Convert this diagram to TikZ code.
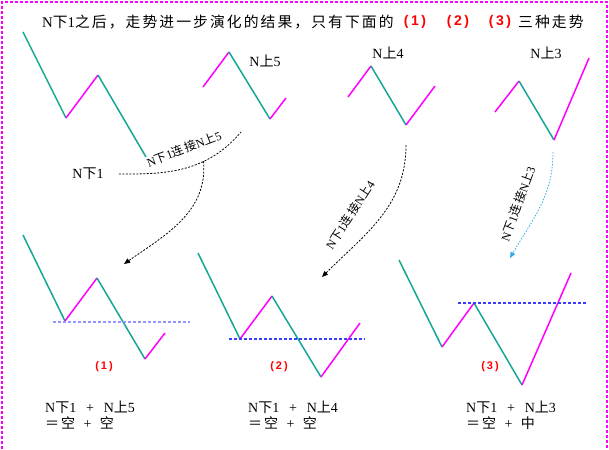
\documentclass[tikz,border=0pt]{standalone}
\usepackage{fontspec}
\setmainfont{Liberation Serif}[LetterSpace=6]
\newfontfamily\cjk{Noto Sans CJK SC}[LetterSpace=14]
\newfontfamily\casefont{Liberation Sans}[LetterSpace=18]
\newcommand{\zh}[1]{{\cjk #1}}
\usetikzlibrary{arrows.meta}
\definecolor{legteal}{RGB}{20,166,150}
\definecolor{legpink}{RGB}{255,0,255}
\definecolor{levelblue}{RGB}{60,60,255}
\definecolor{levelpale}{RGB}{150,150,255}
\definecolor{linkblue}{RGB}{50,170,230}

\begin{document}
\begin{tikzpicture}[x=1pt,y=-1pt,
  legdown/.style={draw=legteal,line width=1.5pt},
  legup/.style={draw=legpink,line width=1.5pt},
  levelline/.style={draw=levelblue,line width=1.2pt,dash pattern=on 3pt off 2pt},
  linkline/.style={line width=0.8pt,dash pattern=on 2pt off 1.5pt},
  link/.style={linkline,-{Triangle[length=6pt,width=5pt]}},
  tag/.style={font=\fontsize{14}{16}\selectfont,inner sep=0pt},
  linktag/.style={font=\fontsize{12}{14}\selectfont,inner sep=0pt},
  headtag/.style={font=\fontsize{14.8}{17}\selectfont,inner sep=0pt},
  casetag/.style={font=\casefont\bfseries\fontsize{11}{13}\selectfont,text=red,inner sep=0pt},
  sumtag/.style={font=\fontsize{14}{15.5}\selectfont,align=left,anchor=north west,inner sep=0pt}]
  \useasboundingbox (0,0) rectangle (609,449);
  \draw[draw=legpink,line width=1.6pt,dash pattern=on 3pt off 2pt] (2,449) -- (2,2) -- (607,2) -- (607,449);

  \node[headtag,anchor=west] (head) at (42,22) {N\zh{下}1\zh{之后，走势进一步演化的结果，只有下面的}};
  \node[casetag,font=\casefont\bfseries\fontsize{14}{16}\selectfont] (h1) at (415,22) {(1)};
  \node[casetag,font=\casefont\bfseries\fontsize{14}{16}\selectfont] (h2) at (458,22) {(2)};
  \node[casetag,font=\casefont\bfseries\fontsize{14}{16}\selectfont] (h3) at (500,22) {(3)};
  \node[headtag,anchor=west] (hend) at (518,22) {\zh{三种走势}};

  \draw[legdown] (23,32) -- (66,118);
  \draw[legup] (66,118) -- (98,75);
  \draw[legdown] (98,75) -- (146,157);

  \draw[legup] (203,87) -- (229,52);
  \draw[legdown] (229,52) -- (270,119);
  \draw[legup] (270,119) -- (286,98);

  \draw[legup] (348,97) -- (371,66);
  \draw[legdown] (371,66) -- (406,125);
  \draw[legup] (406,125) -- (435,86);

  \draw[legup] (495,112) -- (519,81);
  \draw[legdown] (519,81) -- (554,140);
  \draw[legup] (554,140) -- (589,58);

  \node[tag] (n1) at (88,174) {N\zh{下}1};
  \node[tag] (u5) at (265,61) {N\zh{上}5};
  \node[tag] (u4) at (388,53) {N\zh{上}4};
  \node[tag] (u3) at (546,53) {N\zh{上}3};

  \draw[legdown] (23,235) -- (65,321);
  \draw[legup] (65,321) -- (97,278);
  \draw[legdown] (97,278) -- (145,359);
  \draw[legup] (145,359) -- (165,333);
  \draw[levelline,draw=levelpale] (53,322) -- (190,322);

  \draw[legdown] (198,253) -- (240,339);
  \draw[legup] (240,339) -- (272,296);
  \draw[legdown] (272,296) -- (321,377);
  \draw[legup] (321,377) -- (360,323);
  \draw[levelline] (229,339) -- (365,339);

  \draw[legdown] (399,260) -- (442,347);
  \draw[legup] (442,347) -- (474,303);
  \draw[legdown] (474,303) -- (522,385);
  \draw[legup] (522,385) -- (571,273);
  \draw[levelline] (458,303) -- (586,303);

  \node[casetag] (c1) at (104,367) {(1)};
  \node[casetag] (c2) at (279,367) {(2)};
  \node[casetag] (c3) at (490,367) {(3)};

  \node[sumtag] (s1) at (45,401) {N\zh{下}1\hspace{0.7em}+\hspace{0.7em}N\zh{上}5\\\zh{＝空}\hspace{0.6em}+\hspace{0.6em}\zh{空}};
  \node[sumtag] (s2) at (248,401) {N\zh{下}1\hspace{0.7em}+\hspace{0.7em}N\zh{上}4\\\zh{＝空}\hspace{0.6em}+\hspace{0.6em}\zh{空}};
  \node[sumtag] (s3) at (466,401) {N\zh{下}1\hspace{0.7em}+\hspace{0.7em}N\zh{上}3\\\zh{＝空}\hspace{0.6em}+\hspace{0.6em}\zh{中}};

  \coordinate (e5) at (241,132);
  \coordinate (t1) at (124,264);
  \draw[linkline,shorten <=15pt] (n1.east) to[out=0,in=-130] coordinate[pos=0.68] (b1) (e5);
  \draw[link] (b1) to[out=-85,in=35] (t1);
  \node[linktag,rotate=21] (l5) at (184,149) {N\zh{下}1\zh{连接}N\zh{上}5};

  \coordinate (f4) at (406,145);
  \coordinate (t2) at (322,277);
  \draw[link] (f4) to[out=-90,in=45] (t2);
  \node[linktag,rotate=57] (l4) at (350,215) {N\zh{下}1\zh{连接}N\zh{上}4};

  \coordinate (f3) at (553,152);
  \coordinate (t3) at (510,258);
  \draw[link,color=linkblue,dash pattern=on 1.5pt off 1.5pt] (f3) to[out=-90,in=60] (t3);
  \node[linktag,rotate=70] (l3) at (518,204) {N\zh{下}1\zh{连接}N\zh{上}3};
\end{tikzpicture}
\end{document}
